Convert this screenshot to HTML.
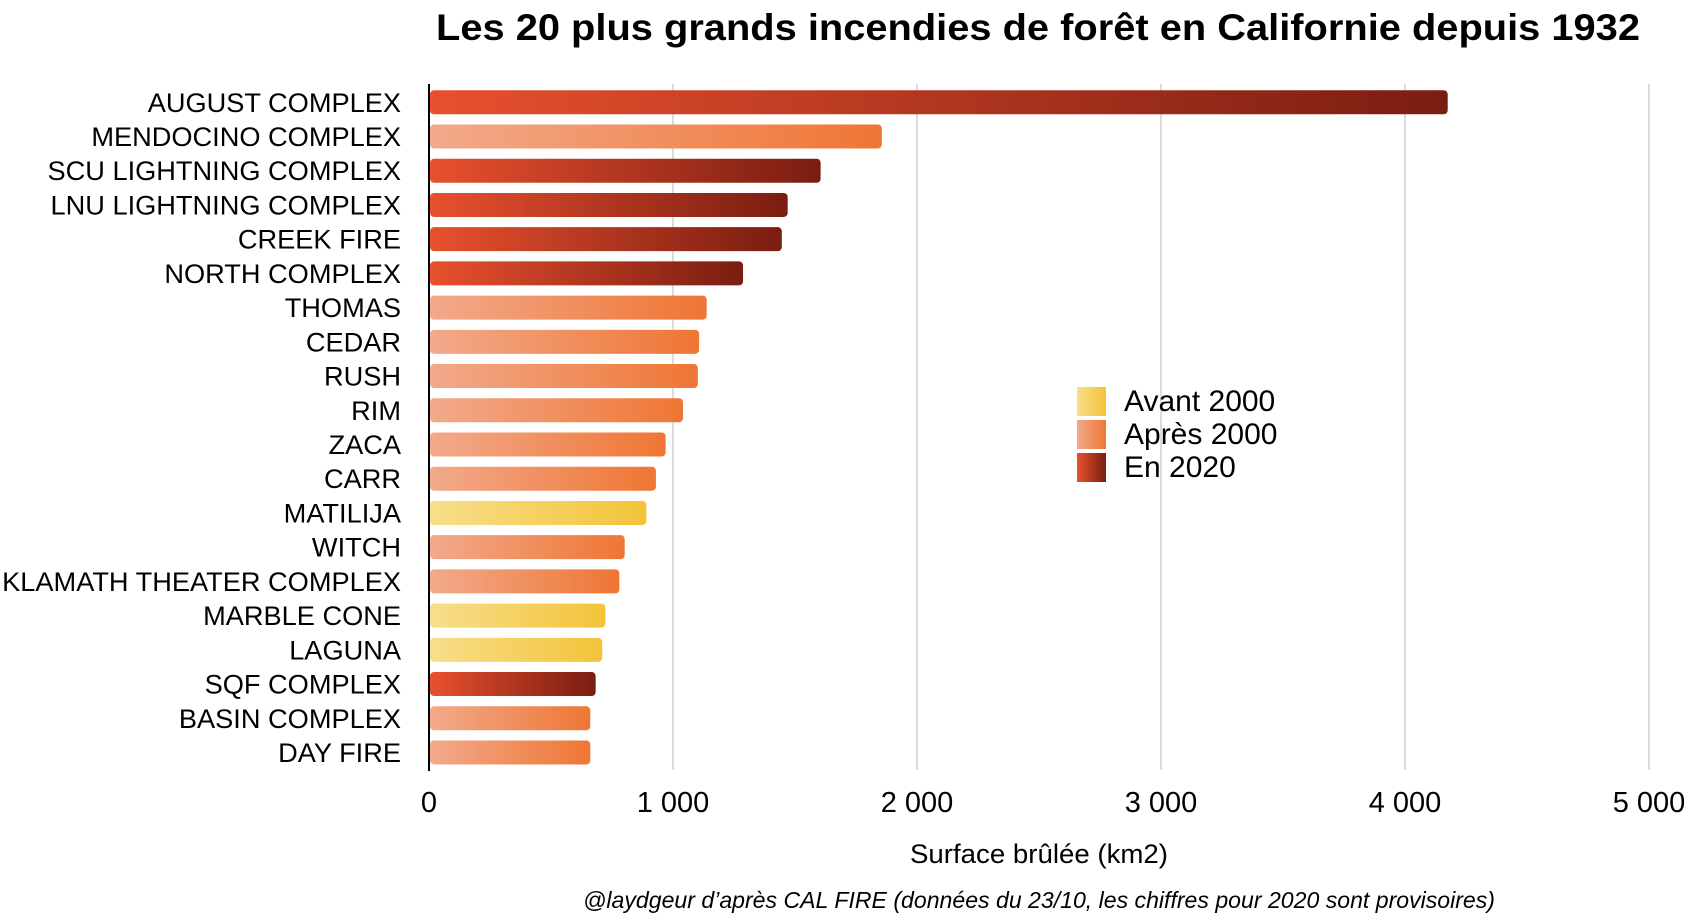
<!DOCTYPE html>
<html><head><meta charset="utf-8"><style>
body{margin:0;background:#fff;}
svg text{font-family:"Liberation Sans",sans-serif;fill:#000;}
</style></head><body>
<svg width="1688" height="918" viewBox="0 0 1688 918" xmlns="http://www.w3.org/2000/svg">
<defs>
<linearGradient id="g2020" x1="0" x2="1" y1="0" y2="0"><stop offset="0" stop-color="#e8502e"/><stop offset="1" stop-color="#7a1d11"/></linearGradient>
<linearGradient id="gApres" x1="0" x2="1" y1="0" y2="0"><stop offset="0" stop-color="#f2aa8b"/><stop offset="1" stop-color="#ef7634"/></linearGradient>
<linearGradient id="gAvant" x1="0" x2="1" y1="0" y2="0"><stop offset="0" stop-color="#f8de8a"/><stop offset="1" stop-color="#f3c43a"/></linearGradient>
</defs>
<text x="1038" y="40" text-anchor="middle" font-size="37" font-weight="bold" textLength="1204" lengthAdjust="spacingAndGlyphs">Les 20 plus grands incendies de forêt en Californie depuis 1932</text>
<g id="grid"></g>
<g id="bars"></g>
<g id="labels"></g>
<line x1="429" y1="84" x2="429" y2="771" stroke="#000" stroke-width="2"/>
<g id="ticks"></g>
<text x="1039" y="863" text-anchor="middle" font-size="27" textLength="258" lengthAdjust="spacingAndGlyphs">Surface brûlée (km2)</text>
<text x="1039" y="908" text-anchor="middle" font-size="23" font-style="italic" fill="#333" textLength="912" lengthAdjust="spacingAndGlyphs">@laydgeur d’après CAL FIRE (données du 23/10, les chiffres pour 2020 sont provisoires)</text>
<g>
<rect x="1077" y="387" width="29" height="29" fill="url(#gAvant)"/>
<text x="1124" y="411" font-size="30">Avant 2000</text>
<rect x="1077" y="420" width="29" height="29" fill="url(#gApres)"/>
<text x="1124" y="444" font-size="30">Après 2000</text>
<rect x="1077" y="453" width="29" height="29" fill="url(#g2020)"/>
<text x="1124" y="477" font-size="30">En 2020</text>
</g>
</svg>
<script>
const categories=["AUGUST COMPLEX","MENDOCINO COMPLEX","SCU LIGHTNING COMPLEX","LNU LIGHTNING COMPLEX","CREEK FIRE","NORTH COMPLEX","THOMAS","CEDAR","RUSH","RIM","ZACA","CARR","MATILIJA","WITCH","KLAMATH THEATER COMPLEX","MARBLE CONE","LAGUNA","SQF COMPLEX","BASIN COMPLEX","DAY FIRE"];
const values=[4175,1856,1605,1470,1446,1287,1138,1107,1102,1041,970,930,891,802,780,723,710,683,661,661];
const periods=["2020","apres","2020","2020","2020","2020","apres","apres","apres","apres","apres","apres","avant","apres","apres","avant","avant","2020","apres","apres"];
const tickValues=[0,1000,2000,3000,4000,5000];
const tickLabels=["0","1 000","2 000","3 000","4 000","5 000"];
const NS="http://www.w3.org/2000/svg";
const x=v=>429+v*0.244;
const yc=i=>102.3+i*34.22;
const fills={"2020":"url(#g2020)","apres":"url(#gApres)","avant":"url(#gAvant)"};
const grid=document.getElementById('grid'),bars=document.getElementById('bars'),labels=document.getElementById('labels'),ticks=document.getElementById('ticks');
tickValues.forEach((t,i)=>{
 if(i>0){const l=document.createElementNS(NS,'line');
 l.setAttribute('x1',x(t));l.setAttribute('x2',x(t));l.setAttribute('y1',84);l.setAttribute('y2',770);
 l.setAttribute('stroke','#c8c8c8');l.setAttribute('stroke-width','1.3');
 
 
 grid.appendChild(l);}
 const tx=document.createElementNS(NS,'text');
 tx.setAttribute('x',x(t));tx.setAttribute('y',812);tx.setAttribute('text-anchor','middle');tx.setAttribute('font-size','29');
 tx.textContent=tickLabels[i];
 
 
 ticks.appendChild(tx);
});
categories.forEach((c,i)=>{
 const r=document.createElementNS(NS,'rect');
 r.setAttribute('x',430);r.setAttribute('y',yc(i)-12);r.setAttribute('width',x(values[i])-430);r.setAttribute('height',24);
 r.setAttribute('rx',4);r.setAttribute('fill',fills[periods[i]]);
 
 
 bars.appendChild(r);
 const t=document.createElementNS(NS,'text');
 t.setAttribute('x',401);t.setAttribute('y',yc(i)+9.5);t.setAttribute('text-anchor','end');t.setAttribute('font-size','27.2');
 t.textContent=c;
 
 
 labels.appendChild(t);
});
</script>
</body></html>
